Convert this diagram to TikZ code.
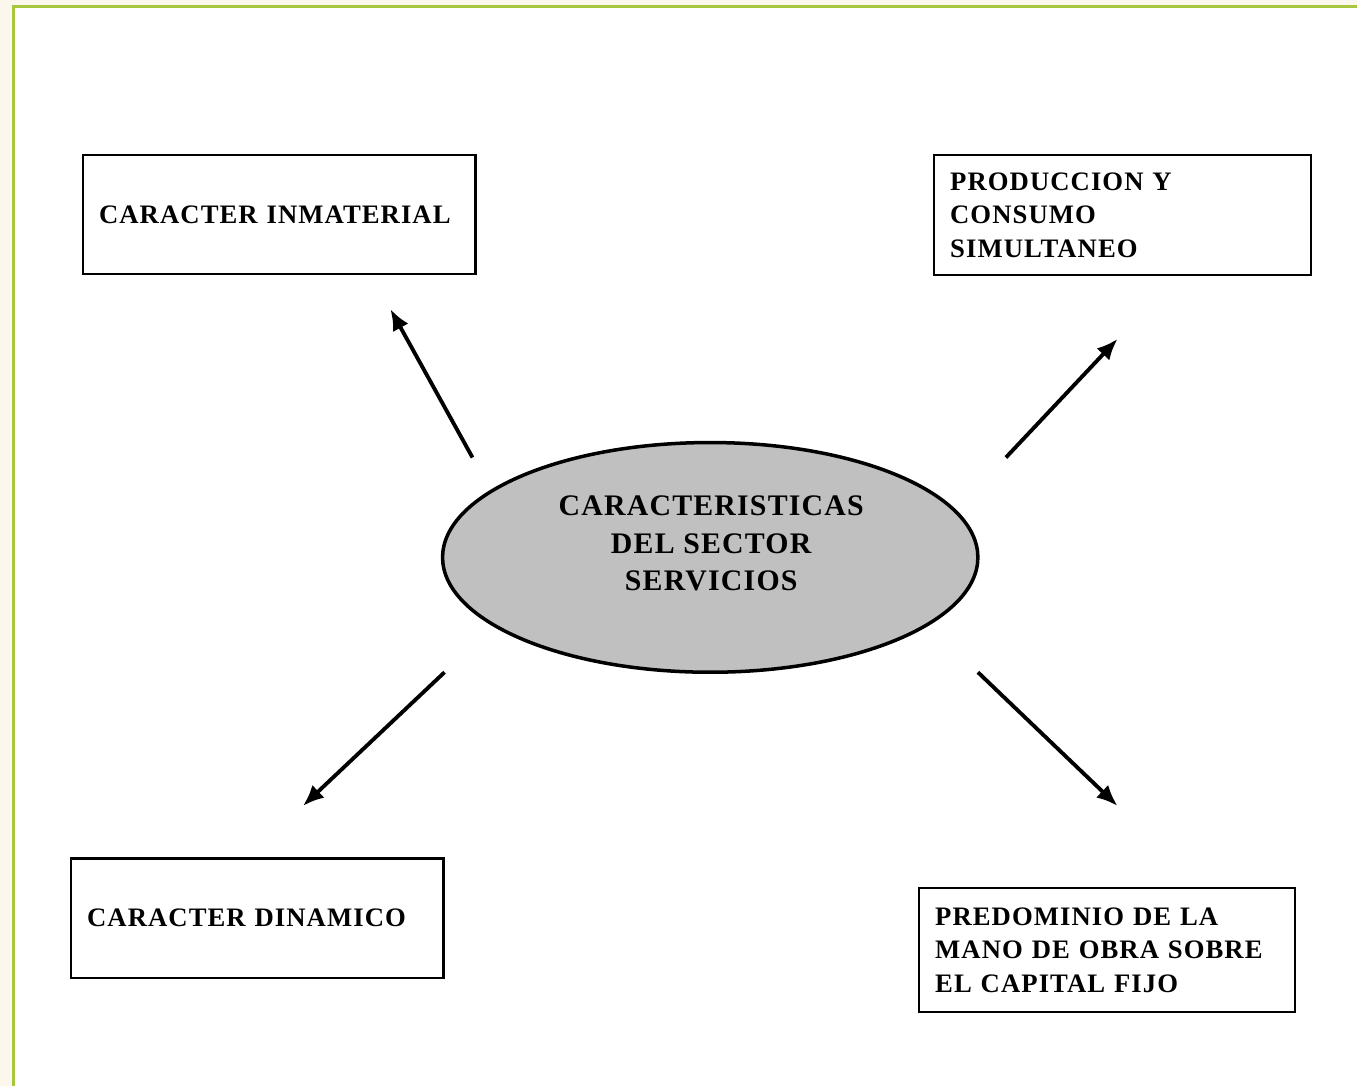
\documentclass[tikz,border=0pt]{standalone}
\usepackage{fontspec}
\setmainfont{Liberation Serif}
\newfontfamily\espaciada[LetterSpace=4]{Liberation Serif}
\usetikzlibrary{shapes.geometric,arrows.meta}
\definecolor{crema}{HTML}{FBF7EC}
\definecolor{verde}{HTML}{A9C63F}
\definecolor{gris}{HTML}{C0C0C0}
\begin{document}
\begin{tikzpicture}[x=0.02cm, y=-0.02cm,
	caja/.style={draw, line width=1.4pt, anchor=north west, align=left, inner xsep=0.32cm, font=\espaciada\bfseries\fontsize{15.2}{19}\selectfont},
	flecha/.style={line width=2.2pt, -{Latex[length=12pt,width=10pt]}, shorten >=1pt}]
	% fondo y marco
	\fill[crema] (0,0) rectangle (1358,1087);
	\fill[white] (14,7) rectangle (1358,1087);
	\draw[verde, line width=1.7pt] (14,1087) -- (14,7) -- (1358,7);
	\useasboundingbox (0,0) rectangle (1358,1087);
	% centro
	\node[ellipse, draw, line width=2pt, fill=gris, minimum width=10.72cm, minimum height=4.6cm] (sector) at (711,558) {};
	\node[align=center, font=\espaciada\bfseries\fontsize{17}{21.3}\selectfont] (titulo) at (712,544) {CARACTERISTICAS\\DEL SECTOR\\SERVICIOS};
	% cajas
	\node[caja, text width=7.22cm, minimum height=2.38cm] (inmaterial) at (82,154) {CARACTER INMATERIAL};
	\node[caja, text width=6.9cm, minimum height=2.4cm] (simultaneo) at (934,154) {PRODUCCION Y\\CONSUMO\\SIMULTANEO};
	\node[caja, text width=6.82cm, minimum height=2.4cm] (dinamico) at (70,858) {CARACTER DINAMICO};
	\node[caja, text width=6.88cm, minimum height=2.48cm] (predominio) at (919,888) {PREDOMINIO DE LA\\MANO DE OBRA SOBRE\\EL CAPITAL FIJO};
	% extremos de las flechas
	\coordinate (a1) at (473,458); \coordinate (b1) at (390,308);
	\coordinate (a2) at (1007,458); \coordinate (b2) at (1120,338);
	\coordinate (a3) at (445,673); \coordinate (b3) at (302,808);
	\coordinate (a4) at (979,673); \coordinate (b4) at (1120,808);
	\draw[flecha] (a1) -- (b1);
	\draw[flecha] (a2) -- (b2);
	\draw[flecha] (a3) -- (b3);
	\draw[flecha] (a4) -- (b4);
\end{tikzpicture}
\end{document}
